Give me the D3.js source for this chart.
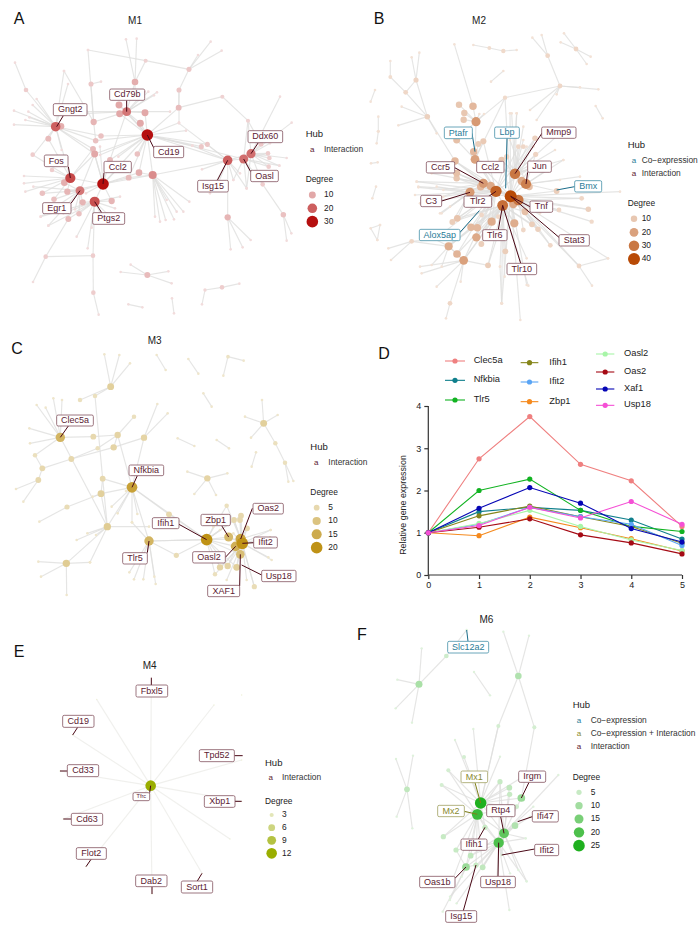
<!DOCTYPE html>
<html><head><meta charset="utf-8">
<script src="https://cdn.jsdelivr.net/npm/d3@7"></script>
<style>html,body{margin:0;background:#fff}svg{display:block;font-family:"Liberation Sans",Arial,sans-serif}</style>
</head><body><svg id="c" width="700" height="938"></svg>
<script>
// Layout coordinates, one unit = 1/3 pixel, relative to each panel origin.
// Fan row: hub x, hub y, hub degree, [leaf x, leaf y, ...]
const m1Fans = [
[442,405,30,[421,370,435,338,359,341,380,335,357,315,536,323,537,368,558,392,412,462,386,533,330,480,300,465,284,462,683,481,622,433,604,440,577,437,731,477,417,518,303,408,287,422,355,470]],
[309,552,30,[458,525,417,518,386,533,284,462,279,447,330,480,335,603,284,605,202,575,240,572,211,534,442,405,360,500,258,580,300,440]],
[211,534,23,[193,548,156,510,98,464,72,528,72,550,76,575,127,580,162,598,202,575,284,462,167,380,145,416,279,447]],
[167,380,20,[110,297,98,315,85,335,42,332,76,360,42,374,88,352,78,270,145,416,183,379,287,422,284,462,303,408,279,447,192,213,204,252,185,450,100,465]],
[380,335,17,[405,246,357,315,359,341,435,338,421,370,445,275,471,277,462,286,434,275,330,480,281,366,165,345,240,335,510,335]],
[240,572,17,[193,548,127,580,162,598,202,575,225,628,237,641,248,607,122,650,145,677,284,462,100,560]],
[284,605,22,[248,607,335,603,205,657,237,641,230,710,263,745,275,683,279,767,145,677,122,650,190,640,320,640,345,625,360,590,310,660]],
[458,525,14,[465,650,480,665,497,660,522,658,530,635,550,635,568,605,500,600,417,518,683,481,386,533,442,405]],
[683,481,20,[606,508,700,540,740,565,622,433,577,437,683,652,731,477,753,461,630,580,720,520,650,560,537,370]],
[731,477,18,[788,553,740,565,806,500,804,460,744,362,838,497,700,540,765,540]],
[753,461,18,[744,362,840,290,875,368,783,432,804,460,810,475,860,474,838,497,806,500,788,553,740,565,810,430]],
[683,652,8,[692,748,728,742,752,720]],
[850,644,6,[860,722,874,700,788,553]],
[279,767,4,[280,878,137,770]],
[280,878,4,[296,944]],
[137,770,4,[99,846,205,657]],
[567,208,5,[632,125,594,165,665,152,437,182,537,270]],
[437,182,3,[405,246,264,150]],
[405,246,9,[378,118,410,116,405,290]],
[281,366,8,[192,213,264,150,287,422]],
[78,270,4,[45,188]],
[667,290,3,[536,323,744,362]],
[744,362,3,[783,432]],
[537,270,5,[536,323,537,368]],
[273,252,5,[303,245,281,366]],
[442,825,7,[392,794,362,816,505,814,515,850]],
[427,922,1,[385,913]],
[522,940,1,[516,895]],
[615,870,2,[606,913,666,862]],
[666,862,4,[718,851]],
[421,370,10,[]],[357,315,10,[]],[359,341,10,[]],[435,338,10,[]],[536,323,7,[]],[183,379,9,[]],[145,416,7,[]],
[284,462,10,[]],[279,447,7,[]],[303,408,6,[]],[287,422,6,[]],[412,462,6,[]],[417,518,9,[]],[386,533,7,[]],[330,480,7,[]],
[193,548,9,[]],[202,575,8,[]],[248,607,8,[]],[335,603,8,[]],[205,657,7,[]],[237,641,6,[]],[162,598,6,[]],[127,580,6,[]],
[622,433,5,[]],[604,440,5,[]],[783,432,5,[]],[804,460,4,[]],[808,474,4,[]],[806,500,4,[]],[788,553,4,[]],[156,510,4,[]],[98,464,4,[]]
];
const m2Fans = [
[452,589,40,[408,574,475,600,428,616,465,521,498,552,370,550,330,577,590,573,780,575,657,798,571,736,534,688,597,630,665,595,685,628,695,665,744,775,500,855,481,960,425,910,436,754,384,796,311,781,425,480,435,293,525,415,470,340,450,340,510,505,345,478,290,520,392,558,362,560,285,483,395,665,463,670,349,712,266,739]],
[408,574,35,[330,577,370,550,392,558,285,483,290,520,290,535,345,478,341,455,370,424,170,545,175,560,165,585,180,610,292,655,277,666,333,682,352,683,349,712,266,739,291,762,311,781,364,732,395,665,225,718,463,670,525,415,510,505,475,440,440,470]],
[428,616,32,[395,665,463,670,349,712,333,682,352,683,364,732,436,754,384,796,311,781,505,857,420,800,500,775,434,830,425,910,266,739,495,635,516,673,534,688,291,762,292,655,277,666]],
[465,521,30,[525,415,520,440,527,463,510,505,490,420,470,340,455,340,500,440,425,480,600,400,490,380,573,490,610,480,585,450,345,478,475,440,440,470]],
[498,552,28,[527,463,508,560,590,573,610,480,600,540,560,510,485,543,450,420,660,530]],
[475,600,30,[460,612,495,635,534,688,571,736,657,798,597,630,665,595,685,628,516,673,520,620,540,640,490,690]],
[370,550,22,[285,483,290,520,290,535,362,560,170,545,215,520,250,570,215,600,240,640,392,558]],
[330,577,22,[250,590,270,620,230,560,175,562,245,640,292,655,277,666]],
[311,781,20,[230,860,185,820,180,800,302,845,384,796,270,910,266,739]],
[266,739,17,[155,724,225,718,291,762,245,800,215,795,333,682]],
[348,365,22,[311,359,313,339,339,319,297,314,358,342,372,342,345,478,290,420,435,293]],
[345,478,20,[341,455,355,432,370,424,290,420,435,293]],
[339,319,14,[283,133]],
[202,350,7,[125,320,168,240,230,400,115,376,285,483,137,277]],
[168,240,6,[155,172,178,158,137,277]],
[137,277,5,[91,231]],
[91,231,3,[91,183]],
[435,293,4,[600,258]],
[600,258,5,[563,167,660,262,715,268,590,283,510,330,530,360]],
[563,167,5,[517,113,545,105]],
[648,147,5,[612,100,680,192,602,127,692,170]],
[388,144,3,[340,135,430,153]],
[430,153,4,[470,150]],
[430,213,1,[393,245]],
[45,270,1,[32,305]],
[55,394,2,[55,350,50,430]],
[53,487,1,[33,490]],
[48,560,1,[37,595]],
[32,685,1,[60,675,52,720]],
[60,675,1,[52,720]],
[707,318,1,[728,355]],
[155,724,5,[85,745,93,780,225,718]],
[657,798,5,[696,857,744,775]],
[425,910,2,[420,800]],
[270,910,5,[258,955]],
[485,543,18,[]],[392,558,18,[]],[460,612,18,[]],[495,635,12,[]],[395,665,17,[]],[463,670,17,[]],[349,712,18,[]],[333,682,14,[]],[352,683,14,[]],
[291,762,15,[]],[384,796,8,[]],[436,754,8,[]],[364,732,8,[]],[297,314,10,[]],[313,339,10,[]],[311,359,10,[]],[341,455,14,[]],[370,424,9,[]],[355,432,8,[]],
[290,420,12,[]],[292,655,11,[]],[277,666,8,[]],[285,483,14,[]],[290,520,12,[]],[290,535,10,[]],[362,560,14,[]],[425,480,10,[]],[525,415,7,[]],[527,463,6,[]],
[510,505,8,[]],[508,560,12,[]],[516,673,8,[]],[534,688,7,[]],[590,573,8,[]],[597,630,5,[]],[665,595,5,[]],[685,628,7,[]],[695,665,4,[]],[571,736,5,[]],
[475,440,5,[]],[490,440,5,[]],[440,470,6,[]],[365,645,5,[]],[415,650,5,[]],[490,690,5,[]],[520,620,6,[]]
];
const m3Fans = [
[727,640,20,[723,557,720,570,702,570,680,527,741,595,812,600,810,622,805,682,763,770,710,712,683,708,660,712,645,733,721,673,707,649,686,621,740,750,680,750,790,640,815,690,700,610]],
[620,629,20,[680,527,702,570,723,557,660,712,683,708,710,712,707,649,721,673,686,621,722,627,507,553,660,600,645,733,640,590,447,633,529,676]],
[722,627,16,[741,595,702,570,720,570,763,770,710,712,683,708,812,600]],
[396,472,17,[303,491,322,590,353,550,378,483,412,552,447,633,507,553,620,629,396,577,335,530,308,446,353,315,432,323]],
[181,322,13,[110,225,137,233,160,205,186,210,88,295,90,340,105,376,322,590,280,320]],
[447,633,13,[388,727,402,748,430,748,463,740,467,762,620,629,529,676,396,577]],
[332,170,7,[313,73,358,75,390,100,240,210,285,198]],
[285,198,3,[308,446]],
[353,315,6,[280,320,293,355,402,260,341,352]],
[432,323,6,[472,222,503,250,341,352]],
[341,352,6,[214,387]],
[214,387,5,[127,415,293,355]],
[127,415,5,[105,376,115,450]],
[115,450,5,[48,477,70,515]],
[308,446,5,[322,590,303,491]],
[303,491,7,[201,531,278,500,322,590]],
[201,531,4,[118,575]],
[322,590,8,[230,630,262,610,288,615,447,590,199,700,270,697]],
[199,700,8,[115,695,123,740,200,795,270,697]],
[497,120,1,[470,75]],[595,131,1,[565,87]],
[684,80,2,[670,137,731,92]],[635,230,1,[610,190]],[583,348,1,[533,325]],[687,355,1,[650,330]],
[791,280,7,[786,210,735,260,833,255,753,323,826,340]],
[826,340,3,[855,398]],[855,398,3,[880,453,865,455]],[755,410,1,[768,367]],
[622,445,6,[562,425,682,430,583,492,648,495]],
[686,621,12,[]],[707,649,14,[]],[721,673,11,[]],[710,712,7,[]],[683,708,6,[]],[660,712,6,[]],[645,733,3,[]],[529,676,4,[]],[507,553,5,[]],[723,557,5,[]],[720,570,5,[]],[702,570,5,[]],[680,527,3,[]],[741,595,5,[]],[763,770,4,[]],[240,210,3,[]],[280,320,5,[]],[293,355,3,[]],[402,260,3,[]],[105,376,3,[]]
];
const m4Fans = [
[452,527,12,[454,225,290,268,642,285,218,375,180,483,190,627,258,770,456,852,606,790,690,687,725,450,725,574]],
[725,255,1,[]]
];
const m6Fans = [
[392,579,25,[275,525,295,481,342,441,315,390,370,357,445,348,450,515,478,533,479,553,450,440,405,652,382,613,280,680,527,495,500,590,462,670,514,564]],
[382,613,22,[275,525,295,481,280,680,318,720,362,737,378,765,398,772,348,771,405,652,300,830,268,590,450,515,500,590,462,670,446,698]],
[462,670,18,[450,515,478,533,479,553,514,564,495,647,625,495,527,685,530,814,455,735,505,780,398,772,362,737,550,590,540,620]],
[446,698,20,[405,652,380,765,398,772,348,771,362,737,318,720,478,900,530,814,527,685,455,735,480,790,440,830,495,647,450,515,300,860,320,880]],
[348,771,11,[300,870,278,905,318,720,362,737,378,765,335,800]],
[207,223,9,[142,209,137,295,186,338,289,138,215,115]],
[289,138,4,[350,60]],
[420,256,1,[372,186]],
[505,198,8,[460,65,537,77,445,348,553,352]],
[445,348,3,[392,579]],
[553,352,3,[514,564]],
[171,538,6,[138,447,189,437,140,620,187,655]],
[514,564,11,[]],[478,533,6,[]],[479,553,5,[]],[450,515,5,[]],[495,647,8,[]],[405,652,5,[]],[280,680,5,[]],[362,737,6,[]],[398,772,6,[]],[378,765,5,[]],[318,720,5,[]],[500,590,4,[]],[275,525,3,[]],[295,481,3,[]],[342,441,3,[]]
];
// Label rows: name, box left, right, top, bottom, leader x0,y0,x1,y1, kind
const INT = 0, COE = 1, BOTH = 2;
const m1Labels = [
["Gngt2",160,261,311,347,190,347,170,380,INT],["Cd79b",329,434,267,301,380,301,380,335,INT],["Fos",133,204,465,500,205,500,211,534,INT],
["Ccl2",312,394,484,518,312,518,309,552,INT],["Cd19",461,551,439,473,462,445,442,405,INT],["Egr1",128,213,608,641,213,610,240,572,INT],
["Ptgs2",278,374,638,673,305,638,284,605,INT],["Isg15",593,685,541,576,652,541,683,481,INT],["Ddx60",744,848,392,428,775,428,753,461,INT],["Oasl",752,835,511,545,752,515,731,477,INT]];
const m2Labels = [
["Ptafr",253,337,381,416,336,400,345,455,COE],["Lbp",404,478,381,415,441,415,437,565,COE],["Mmp9",545,648,381,415,547,398,465,521,INT],
["Ccr5",199,284,485,519,284,503,370,550,INT],["Ccl2",350,432,484,518,430,510,432,512,INT],["Jun",503,574,483,517,503,517,498,552,INT],
["C3",182,245,586,620,245,603,330,577,INT],["Tlr2",312,395,588,622,385,590,408,574,INT],["Tnf",510,578,603,637,510,620,452,589,INT],
["Bmx",644,725,542,576,644,560,590,570,COE],["Alox5ap",178,300,688,722,300,697,358,632,COE],["Tlr6",368,441,689,722,415,689,428,616,INT],
["Stat3",597,688,704,738,597,712,452,589,INT],["Tlr10",441,530,790,824,482,790,428,616,INT]];
const m3Labels = [
["Clec5a",170,280,255,288,205,288,181,322,INT],["Nfkbia",387,491,405,437,412,437,396,472,INT],["Ifih1",457,537,563,596,537,583,620,629,INT],
["Zbp1",603,691,553,587,665,587,686,621,INT],["Oas2",759,850,520,552,757,535,722,627,INT],["Ifit2",761,832,621,654,761,638,727,640,INT],
["Oasl2",578,676,665,699,676,682,707,649,INT],["Usp18",785,888,721,755,785,735,725,705,INT],["XAF1",623,719,766,800,719,768,721,673,INT],["Tlr5",368,442,668,702,442,668,447,633,INT]];
const m4Labels = [
["Fbxl5",408,503,225,261,454,225,454,203,INT],["Cd19",188,282,316,352,233,352,218,375,INT],["Cd33",202,296,464,500,202,483,180,483,INT],
["Cd63",214,308,610,646,214,627,190,627,INT],["Flot2",229,319,713,748,273,748,258,770,INT],["Dab2",407,501,795,830,456,830,456,852,INT],
["Sort1",544,638,813,849,592,813,606,790,INT],["Tpd52",598,703,419,455,703,437,728,437,INT],["Xbp1",613,705,557,592,705,574,725,574,INT],["Tfrc",399,449,548,572,449,548,452,527,INT]];
const m6Labels = [
["Slc12a2",293,416,94,129,354,94,350,60,COE],["Mx1",333,413,483,518,375,518,392,579,BOTH],["Mx2",263,343,586,620,343,604,382,613,BOTH],
["Irgm",506,587,483,517,537,517,514,564,INT],["Rtp4",410,495,584,620,452,620,462,670,INT],["Ifi47",547,625,602,636,547,620,503,635,INT],
["Ifih1",333,411,687,721,385,687,405,652,INT],["Ifit2",554,626,703,737,554,717,455,735,INT],["Oas1b",209,315,799,833,315,805,348,771,INT],
["Usp18",392,496,799,833,444,799,446,698,INT],["Isg15",287,380,902,937,340,902,378,765,INT]];
// Line chart
const timePoints = [0,1,2,3,4,5];
const yTicks = [0,1,2,3,4];
const geneNames = ["Clec5a","Nfkbia","Tlr5","Ifih1","Ifit2","Zbp1","Oasl2","Oas2","Xaf1","Usp18"];
const geneColors = ["#ef8080","#0f7f8c","#12b322","#85851a","#5aa5f5","#f58a1e","#a8f5a8","#a50a14","#0505b5","#f550d5"];
const clec5a = [1,2.75,3.75,2.62,2.23,1.15];
const nfkbia = [1,1.5,1.6,1.53,1.3,0.85];
const tlr5 = [1,2.0,2.27,1.53,1.15,1.03];
const ifih1 = [1,1.4,1.63,1.38,1.15,0.75];
const ifit2 = [1,1.2,1.6,1.38,1.2,0.7];
const zbp1 = [1,0.93,1.37,1.12,0.86,0.57];
const oasl2 = [1,1.22,1.53,1.15,0.83,0.58];
const oas2 = [1,1.13,1.33,0.95,0.76,0.5];
const xaf1 = [1,1.58,2.07,1.7,1.1,0.78];
const usp18 = [1,1.17,1.6,1.35,1.74,1.2];
const geneValues = [clec5a,nfkbia,tlr5,ifih1,ifit2,zbp1,oasl2,oas2,xaf1,usp18];
// legend rows of line chart: line start, line end, y, text x (1/3 px from panel D origin)
const geneLegend = [[225,285,63,311],[225,285,121,311],[225,285,180,311],[452,505,68,538],[452,505,126,538],[452,505,185,538],[678,733,42,762],[678,733,96,762],[678,733,147,762],[678,733,196,762]];

const kindText = ["#5c2232","#2a7c98","#8a8a30"], kindBox = ["#84545f","#4590a8","#a0a060"], kindLine = ["#4a0816","#1a6c8a","#80801a"];
const kindName = ["Interaction","Co\u2212expression","Co\u2212expression + Interaction"];
const svg = d3.select("#c");
const font = 9;

function net(o){
  const g = svg.append("g");
  const X = d3.scaleLinear().domain([0,3]).range([o.ox,o.ox+1]);
  const Y = d3.scaleLinear().domain([0,3]).range([o.oy,o.oy+1]);
  const R = d3.scaleSqrt().domain([1,o.max]).range([o.r0,o.r1]);
  const T = d3.scalePow().exponent(1.2).domain([1,o.max]).range([0,1]);
  const C = d => d3.interpolateRgb(o.light,o.full)(T(d));
  const edges=[], nodes=[];
  o.fans.forEach(f=>{
    for(let i=0;i<f[3].length;i+=2){ edges.push([f[0],f[1],f[3][i],f[3][i+1]]); nodes.push([f[3][i],f[3][i+1],1]); }
    nodes.push([f[0],f[1],f[2]]);
  });
  nodes.sort((a,b)=>a[2]-b[2]);
  g.selectAll("line.e").data(edges).join("line").attr("class","e")
    .attr("x1",d=>X(d[0])).attr("y1",d=>Y(d[1])).attr("x2",d=>X(d[2])).attr("y2",d=>Y(d[3]))
    .attr("stroke",o.edge||"#dfdfdd").attr("stroke-opacity",0.8).attr("stroke-width",1.15);
  g.selectAll("circle.n").data(nodes).join("circle").attr("class","n")
    .attr("cx",d=>X(d[0])).attr("cy",d=>Y(d[1])).attr("r",d=>R(d[2])).attr("fill",d=>C(d[2]));
  g.selectAll("line.l").data(o.labels).join("line").attr("class","l")
    .attr("x1",d=>X(d[5])).attr("y1",d=>Y(d[6])).attr("x2",d=>X(d[7])).attr("y2",d=>Y(d[8]))
    .attr("stroke",d=>kindLine[d[9]]).attr("stroke-width",1);
  g.selectAll("rect.b").data(o.labels).join("rect").attr("class","b")
    .attr("x",d=>X(d[1])).attr("y",d=>Y(d[3])).attr("width",d=>(d[2]-d[1])/3).attr("height",d=>(d[4]-d[3])/3)
    .attr("rx",1.5).attr("fill","#fff").attr("stroke",d=>kindBox[d[9]]).attr("stroke-width",0.8);
  g.selectAll("text.t").data(o.labels).join("text").attr("class","t")
    .attr("x",d=>X((d[1]+d[2])/2)).attr("y",d=>Y((d[3]+d[4])/2)+0.3).attr("text-anchor","middle").attr("dominant-baseline","middle")
    .attr("font-size",d=>d[0]==="Tfrc"?5.5:font).attr("fill",d=>kindText[d[9]]).text(d=>d[0]);
  const txt=(x,y,s,size,fill)=>g.append("text").attr("x",X(x)).attr("y",Y(y)).attr("dominant-baseline","middle").attr("font-size",size).attr("fill",fill||"#222").text(s);
  txt(o.hubX,o.hubY,"Hub",9.5);
  o.kinds.forEach((k,i)=>{
    g.append("text").attr("x",X(o.aX)).attr("y",Y(o.kindY[i])).attr("text-anchor","middle").attr("dominant-baseline","middle").attr("font-size",8).attr("fill",kindText[k]).text("a");
    txt(o.kX,o.kindY[i],kindName[k],8.4,"#333");
  });
  txt(o.hubX,o.degY,"Degree",8.4);
  o.legDeg.forEach((d,i)=>{
    g.append("circle").attr("cx",X(o.legCX)).attr("cy",Y(o.legY[i])).attr("r",R(d)).attr("fill",C(d));
    txt(o.kX,o.legY[i],d,8.4,"#222");
  });
  g.append("text").attr("x",X(o.title[0])).attr("y",Y(o.title[1])).attr("text-anchor","middle").attr("dominant-baseline","middle").attr("font-size",10).attr("fill","#222").text(o.title[2]);
}
net({ox:0,oy:0,fans:m1Fans,labels:m1Labels,max:30,r0:1.3,r1:5.8,light:"#f2dcdc",full:"#b50f0f",title:[405,65,"M1"],
 hubX:917,hubY:402,aX:937,kX:972,kinds:[INT],kindY:[449],degY:540,legCX:937,legDeg:[10,20,30],legY:[585,625,665]});
net({ox:360,oy:0,fans:m2Fans,labels:m2Labels,max:40,r0:1.3,r1:6,light:"#f3e2d6",full:"#b84a06",title:[357,65,"M2"],
 hubX:803,hubY:435,aX:822,kX:845,kinds:[COE,INT],kindY:[482,521],degY:612,legCX:822,legDeg:[10,20,30,40],legY:[656,697,737,777]});
net({ox:0,oy:330,fans:m3Fans,labels:m3Labels,max:20,r0:1.3,r1:5.8,light:"#efe6cc",full:"#bf9216",title:[464,33,"M3"],
 hubX:931,hubY:352,aX:949,kX:985,kinds:[INT],kindY:[398],degY:489,legCX:950,legDeg:[5,10,15,20],legY:[533,573,613,653]});
net({ox:0,oy:610,fans:m4Fans,labels:m4Labels,max:12,r0:0.7,r1:5.3,light:"#eff0d8",full:"#9aae00",title:[449,168,"M4"],edge:"#ecece8",
 hubX:795,hubY:459,aX:812,kX:846,kinds:[INT],kindY:[503],degY:575,legCX:815,legDeg:[3,6,9,12],legY:[615,653,691,730]});
net({ox:350,oy:610,fans:m6Fans,labels:m6Labels,max:25,r0:1.2,r1:5.8,light:"#dff2dc",full:"#1fb01f",title:[409,30,"M6"],
 hubX:668,hubY:285,aX:687,kX:722,kinds:[COE,BOTH,INT],kindY:[332,371,411],degY:502,legCX:687,legDeg:[5,10,15,20,25],legY:[547,587,627,667,707]});

// Panel letters
[["A",19,20],["B",379,20],["C",17,350],["D",384,355],["E",19,653],["F",362,636]].forEach(d=>
  svg.append("text").attr("x",d[1]).attr("y",d[2]).attr("text-anchor","middle").attr("dominant-baseline","middle").attr("font-size",16).attr("fill","#111").text(d[0]));

// Panel D
const x = d3.scaleLinear().domain([0,5]).range([428.3,682]);
const y = d3.scaleLinear().domain([0,4]).range([575,406]);
const gx = svg.append("g").attr("transform","translate(0,575)").call(d3.axisBottom(x).tickValues(timePoints).tickSize(4).tickFormat(d3.format("d")));
const gy = svg.append("g").attr("transform","translate(428.3,0)").call(d3.axisLeft(y).tickValues(yTicks).tickSize(4).tickFormat(d3.format("d")));
[gx,gy].forEach(a=>{a.selectAll("path,line").attr("stroke","#333").attr("stroke-width",1.2);a.selectAll("text").attr("font-size",9).attr("font-family","Liberation Sans").attr("fill","#222");});
gx.select("path").attr("d","M428.3,0H682");
gy.select("path").attr("d","M0,406V575");
svg.append("text").attr("transform","translate(403.5,505) rotate(-90)").attr("text-anchor","middle").attr("dominant-baseline","middle").attr("font-size",8.9).attr("fill","#222").text("Relative gene expression");
const line = d3.line().x((d,i)=>x(timePoints[i])).y(d=>y(d));
geneValues.forEach((vals,i)=>{
  const g = svg.append("g");
  g.append("path").attr("d",line(vals)).attr("fill","none").attr("stroke",geneColors[i]).attr("stroke-width",1.1);
  g.selectAll("circle").data(vals).join("circle").attr("cx",(d,j)=>x(timePoints[j])).attr("cy",d=>y(d)).attr("r",2.6).attr("fill",geneColors[i]);
  const l = geneLegend[i], Lx = v=>370+v/3, Ly = v=>340+v/3;
  g.append("line").attr("x1",Lx(l[0])).attr("x2",Lx(l[1])).attr("y1",Ly(l[2])).attr("y2",Ly(l[2])).attr("stroke",geneColors[i]).attr("stroke-width",1.1);
  g.append("circle").attr("cx",Lx((l[0]+l[1])/2)).attr("cy",Ly(l[2])).attr("r",2.6).attr("fill",geneColors[i]);
  g.append("text").attr("x",Lx(l[3])).attr("y",Ly(l[2]-1)).attr("dominant-baseline","middle").attr("font-size",9.3).attr("fill","#222").text(geneNames[i]);
});
</script></body></html>
